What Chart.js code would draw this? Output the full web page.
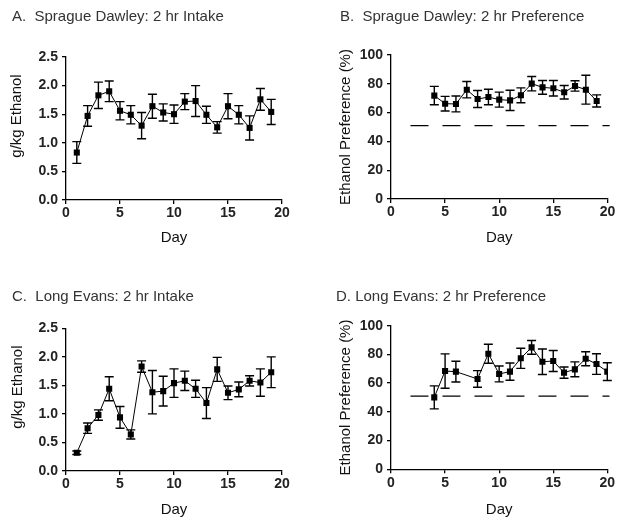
<!DOCTYPE html>
<html lang="en">
<head>
<meta charset="UTF-8" />
<title>Ethanol intake and preference</title>
<script src="https://cdn.jsdelivr.net/npm/chart.js"></script>
<style>
  body { margin: 0; background: #fff; }
  #wrap { position: relative; width: 628px; height: 528px; font-family: "Liberation Sans", Arial, sans-serif; }
  #wrap canvas { position: absolute; }
  .ttl { position: absolute; font-size: 15px; line-height: 15px; color: #333; white-space: pre; }
</style>
</head>
<body>
<div id="wrap">
  <canvas id="cA" width="314" height="264" style="left:0;top:0"></canvas>
  <canvas id="cB" width="314" height="264" style="left:314px;top:0"></canvas>
  <canvas id="cC" width="314" height="264" style="left:0;top:264px"></canvas>
  <canvas id="cD" width="314" height="264" style="left:314px;top:264px"></canvas>
  <div class="ttl" style="left:12px;top:8px">A.  Sprague Dawley: 2 hr Intake</div>
  <div class="ttl" style="left:340px;top:8px">B.  Sprague Dawley: 2 hr Preference</div>
  <div class="ttl" style="left:12px;top:288px">C.  Long Evans: 2 hr Intake</div>
  <div class="ttl" style="left:336px;top:288px">D. Long Evans: 2 hr Preference</div>
</div>
<script>
// days on x, mean and SEM for each panel
const daysSD = [1, 2, 3, 4, 5, 6, 7, 8, 9, 10, 11, 12, 13, 14, 15, 16, 17, 18, 19];
const intakeSD = [0.83, 1.47, 1.83, 1.90, 1.56, 1.49, 1.30, 1.64, 1.53, 1.50, 1.72, 1.73, 1.49, 1.27, 1.64, 1.49, 1.26, 1.76, 1.54];
const intakeSDsem = [0.19, 0.18, 0.23, 0.18, 0.16, 0.16, 0.23, 0.21, 0.15, 0.16, 0.14, 0.27, 0.15, 0.10, 0.22, 0.16, 0.21, 0.19, 0.22];

const daysSDpref = [4, 5, 6, 7, 8, 9, 10, 11, 12, 13, 14, 15, 16, 17, 18, 19];
const prefSD = [71.8, 66.2, 66.0, 75.9, 69.4, 70.8, 69.0, 68.5, 72.0, 80.1, 77.5, 76.9, 74.1, 78.5, 75.9, 68.1];
const prefSDsem = [6.4, 5.1, 5.5, 5.7, 5.9, 5.4, 5.2, 7.0, 5.2, 5.0, 4.8, 5.4, 4.7, 3.6, 10.0, 4.2];

const daysLE = [1, 2, 3, 4, 5, 6, 7, 8, 9, 10, 11, 12, 13, 14, 15, 16, 17, 18, 19];
const intakeLE = [0.32, 0.75, 0.98, 1.44, 0.94, 0.64, 1.83, 1.38, 1.40, 1.54, 1.58, 1.44, 1.19, 1.78, 1.37, 1.43, 1.58, 1.55, 1.73];
const intakeLEsem = [0.03, 0.09, 0.09, 0.21, 0.19, 0.08, 0.10, 0.38, 0.26, 0.25, 0.17, 0.15, 0.27, 0.21, 0.12, 0.13, 0.09, 0.24, 0.27];

const daysLEpref = [4, 5, 6, 8, 9, 10, 11, 12, 13, 14, 15, 16, 17, 18, 19, 20];
const prefLE = [50.1, 68.4, 68.0, 62.9, 80.5, 66.4, 68.0, 77.3, 84.9, 74.9, 75.4, 67.3, 69.6, 77.0, 73.3, 68.0];
const prefLEsem = [8.0, 12.0, 7.2, 5.8, 6.6, 5.5, 6.0, 7.0, 4.8, 8.9, 7.3, 3.9, 5.2, 4.9, 7.2, 6.2];

// 50% line (indifference), drawn dashed
const chanceX = [1.8, 20.2];
const chanceY = [51, 51];

const dayTicks = [0, 5, 10, 15, 20];
const intakeTicks = [0, 0.5, 1.0, 1.5, 2.0, 2.5];
const prefTicks = [0, 20, 40, 60, 80, 100];

Chart.defaults.font.family = '"Liberation Sans", Arial, sans-serif';
Chart.defaults.font.size = 15;
Chart.defaults.color = '#111';

// error bars: mean +/- sem, drawn under the line and markers
const errorBars = {
  id: 'errorBars',
  beforeDatasetsDraw(chart, args, opts) {
    if (!opts.sem) return;
    const ctx = chart.ctx;
    const ys = chart.scales.y;
    const pts = chart.getDatasetMeta(0).data;
    const vals = chart.data.datasets[0].data;
    ctx.save();
    ctx.strokeStyle = '#000';
    ctx.lineWidth = 1.4;
    pts.forEach((pt, i) => {
      const top = ys.getPixelForValue(vals[i].y + opts.sem[i]);
      const bot = ys.getPixelForValue(vals[i].y - opts.sem[i]);
      ctx.beginPath();
      ctx.moveTo(pt.x, top); ctx.lineTo(pt.x, bot);
      ctx.moveTo(pt.x - 4.5, top); ctx.lineTo(pt.x + 4.5, top);
      ctx.moveTo(pt.x - 4.5, bot); ctx.lineTo(pt.x + 4.5, bot);
      ctx.stroke();
    });
    ctx.restore();
  }
};
Chart.register(errorBars);

function panel(id, p) {
  const sets = [{
    data: p.days.map((d, i) => ({ x: d, y: p.vals[i] })),
    borderColor: '#000',
    borderWidth: 1,
    pointStyle: 'rect',
    pointRadius: 4.3,
    pointBackgroundColor: '#000',
    pointBorderWidth: 0,
    tension: 0
  }];
  if (p.chance) {
    sets.push({
      data: chanceX.map((x, i) => ({ x: x, y: chanceY[i] })),
      borderColor: '#000',
      borderWidth: 1.3,
      borderDash: [18, 14],
      pointRadius: 0,
      clip: false
    });
  }
  return new Chart(document.getElementById(id), {
    type: 'line',
    data: { datasets: sets },
    options: {
      responsive: false,
      animation: false,
      layout: { padding: { top: p.top, right: p.right, bottom: 0, left: 0 } },
      plugins: { legend: { display: false }, tooltip: { enabled: false }, errorBars: { sem: p.sem } },
      scales: {
        x: {
          type: 'linear', min: 0, max: 20,
          afterBuildTicks: s => { s.ticks = dayTicks.map(v => ({ value: v })); },
          afterFit: s => { s.height = p.xh; s.paddingLeft = 0; s.paddingRight = 0; },
          grid: { drawOnChartArea: false, tickLength: 4, color: '#000', lineWidth: 1.3 },
          border: { color: '#000', width: 1.3 },
          ticks: { padding: 1, font: { size: 14, weight: 'bold' }, color: '#222' },
          title: { display: true, text: 'Day', padding: { top: 0, bottom: p.xpad } }
        },
        y: {
          type: 'linear', min: 0, max: p.max,
          afterBuildTicks: s => { s.ticks = p.ticks.map(v => ({ value: v })); },
          afterFit: s => { s.width = p.yw; s.paddingTop = 0; s.paddingBottom = 0; },
          grid: { drawOnChartArea: false, tickLength: 4, color: '#000', lineWidth: 1.3 },
          border: { color: '#000', width: 1.3 },
          ticks: { padding: 4, font: { size: 14, weight: 'bold' }, color: '#222', callback: v => v.toFixed(p.dec) },
          title: { display: true, text: p.ylab, padding: { top: p.ypad, bottom: 0 } }
        }
      }
    }
  });
}

panel('cA', { days: daysSD, vals: intakeSD, sem: intakeSDsem, max: 2.5, ticks: intakeTicks, dec: 1,
  ylab: '      g/kg Ethanol', ypad: 8, xpad: 17, top: 57, right: 32, xh: 64, yw: 66 });
panel('cB', { days: daysSDpref, vals: prefSD, sem: prefSDsem, max: 100, ticks: prefTicks, dec: 0, chance: true,
  ylab: 'Ethanol Preference (%)', ypad: 23, xpad: 17, top: 55, right: 20.5, xh: 65, yw: 77 });
panel('cC', { days: daysLE, vals: intakeLE, sem: intakeLEsem, max: 2.5, ticks: intakeTicks, dec: 1,
  ylab: '      g/kg Ethanol', ypad: 8.5, xpad: 9, top: 64.3, right: 32, xh: 57, yw: 66 });
panel('cD', { days: daysLEpref, vals: prefLE, sem: prefLEsem, max: 100, ticks: prefTicks, dec: 0, chance: true,
  ylab: 'Ethanol Preference (%)', ypad: 23, xpad: 9, top: 61.7, right: 20.7, xh: 58.7, yw: 77 });
</script>
</body>
</html>
